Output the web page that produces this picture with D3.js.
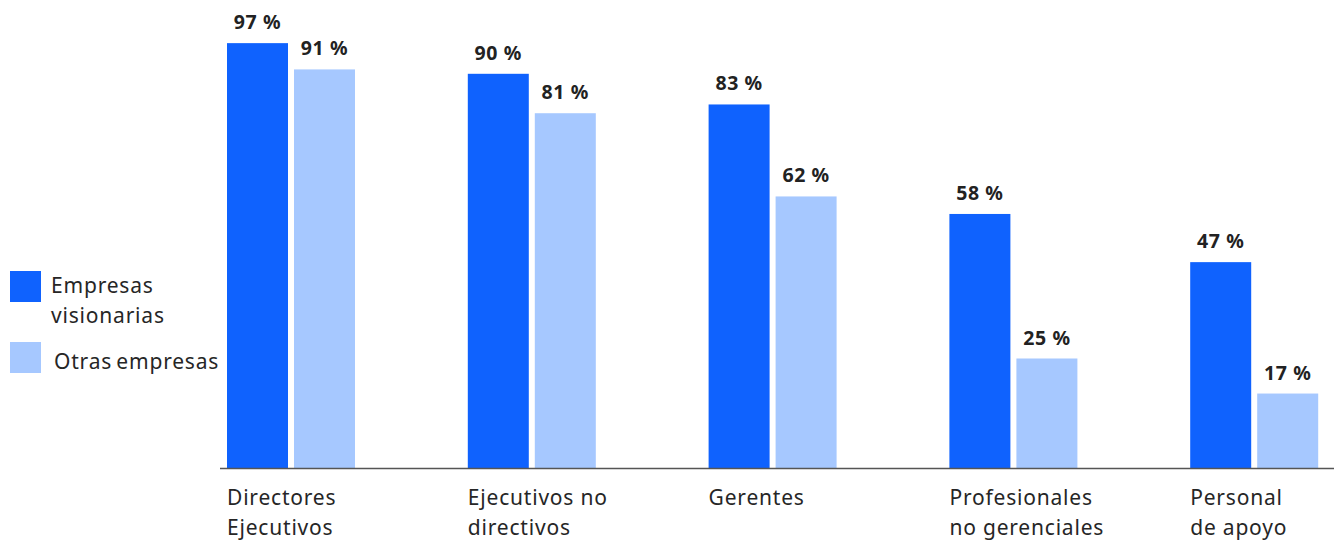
<!DOCTYPE html>
<html>
<head>
<meta charset="utf-8">
<script src="https://cdn.jsdelivr.net/npm/d3@7"></script>
<style>
  body { margin: 0; background: #fff; }
  svg { display: block; font-family: "Noto Sans", "Open Sans", sans-serif; }
</style>
</head>
<body>
<svg id="chart"></svg>
<script>
var categories = [
  ["Directores", "Ejecutivos"],
  ["Ejecutivos no", "directivos"],
  ["Gerentes"],
  ["Profesionales", "no gerenciales"],
  ["Personal", "de apoyo"]
];
var seriesNames = ["Empresas visionarias", "Otras empresas"];
var visionarias = [97, 90, 83, 58, 47];
var otras = [91, 81, 62, 25, 17];
var COLORS = ["#0f62fe", "#a6c8ff"];
var TEXT_COLOR = "#262626";

var w = 1338, h = 540;
var svg = d3.select("#chart").attr("width", w).attr("height", h);

var keys = categories.map(function(c, i) { return "c" + i; });
var rows = keys.map(function(k, i) {
  return { key: k, label: categories[i], values: [visionarias[i], otras[i]] };
});

var x0 = d3.scaleBand().domain(keys).range([227, 1431]).paddingInner(0).paddingOuter(0);
var x1 = d3.scaleBand().domain([0, 1]).range([0, 128]).paddingInner(0.0896);
var y = d3.scaleLinear().domain([0, 100]).range([468, 30]);

// bars
var groups = svg.selectAll("g.grp")
  .data(rows)
  .enter()
  .append("g")
    .attr("class", "grp")
    .attr("transform", function(d) { return "translate(" + x0(d.key) + ",0)"; });

groups.selectAll("rect")
  .data(function(d) { return d.values; })
  .enter()
  .append("rect")
    .attr("x", function(v, j) { return x1(j); })
    .attr("y", function(v) { return y(v); })
    .attr("width", x1.bandwidth())
    .attr("height", function(v) { return y(0) - y(v); })
    .attr("fill", function(v, j) { return COLORS[j]; });

groups.selectAll("text.val")
  .data(function(d) { return d.values; })
  .enter()
  .append("text")
    .attr("class", "val")
    .attr("x", function(v, j) { return x1(j) + x1.bandwidth() / 2; })
    .attr("y", function(v) { return y(v) - 14; })
    .attr("text-anchor", "middle")
    .attr("font-size", 19.5)
    .attr("font-weight", 700)
    .attr("letter-spacing", 0.6)
    .attr("fill", "#222")
    .text(function(v) { return v + " %"; });

// baseline
svg.append("line")
  .attr("x1", 220).attr("x2", 1334)
  .attr("y1", y(0) + 0.5).attr("y2", y(0) + 0.5)
  .attr("stroke", "#555")
  .attr("stroke-width", 1.5);

// category labels
var catText = groups.append("text")
  .attr("x", 0)
  .attr("y", 505)
  .attr("font-size", 21)
  .attr("letter-spacing", 0.8)
  .attr("fill", TEXT_COLOR);

catText.selectAll("tspan")
  .data(function(d) { return d.label; })
  .enter()
  .append("tspan")
    .attr("x", 0)
    .attr("dy", function(t, i) { return i === 0 ? 0 : 30; })
    .text(function(t) { return t; });

// legend
var legend = svg.append("g");
legend.append("rect").attr("x", 10).attr("y", 271).attr("width", 31).attr("height", 31).attr("fill", COLORS[0]);
legend.append("rect").attr("x", 10).attr("y", 342).attr("width", 31).attr("height", 31).attr("fill", COLORS[1]);

var lt1 = legend.append("text").attr("x", 51).attr("y", 293)
  .attr("font-size", 21).attr("letter-spacing", 0.8).attr("fill", TEXT_COLOR);
lt1.append("tspan").attr("x", 51).text("Empresas");
lt1.append("tspan").attr("x", 51).attr("dy", 30).text("visionarias");

legend.append("text")
  .attr("x", 54).attr("y", 369)
  .attr("font-size", 21)
  .attr("letter-spacing", 0.8)
  .attr("word-spacing", -2)
  .attr("fill", TEXT_COLOR)
  .text(seriesNames[1]);
</script>
</body>
</html>
